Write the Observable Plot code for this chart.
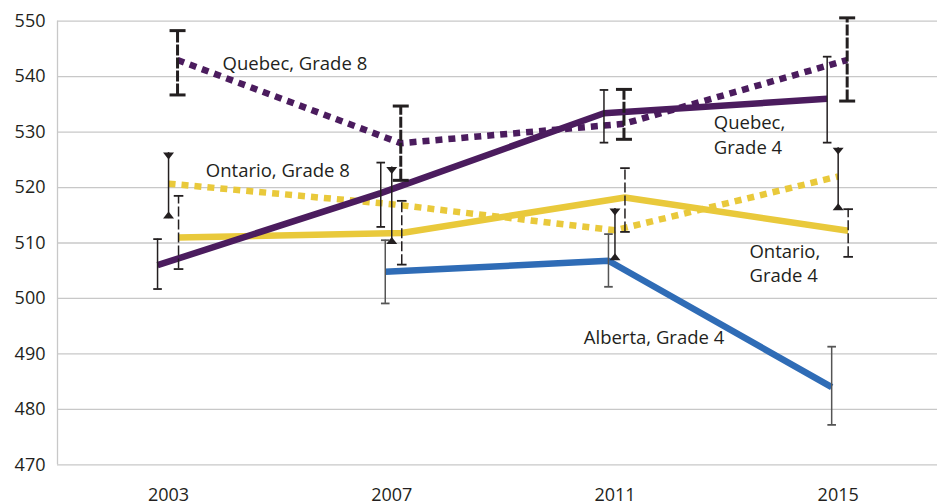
<!DOCTYPE html>
<html>
<head>
<meta charset="utf-8">
<script src="https://cdn.jsdelivr.net/npm/d3@7"></script>
<script src="https://cdn.jsdelivr.net/npm/@observablehq/plot@0.6"></script>
<style>
  html, body { margin: 0; padding: 0; background: #fff; }
  #chart { width: 937px; height: 504px; }
</style>
</head>
<body>
<div id="chart"></div>
<script>
// ---- data ----
const years = [2003, 2007, 2011, 2015];
const yTicks = [470, 480, 490, 500, 510, 520, 530, 540, 550];

const quebecG4   = [506, 519, 533.4, 536];
const quebecG4Lo = [501.7, 512.9, 528.1, 528.1];
const quebecG4Hi = [510.7, 524.5, 537.6, 543.6];

const quebecG8   = [543, 528, 531.5, 543];
const quebecG8Lo = [536.7, 521.3, 528.7, 535.6];
const quebecG8Hi = [548.3, 534.7, 537.7, 550.6];

const ontarioG8   = [520.7, 517, 512.3, 522];
const ontarioG8Lo = [514.4, 509.8, 506.9, 515.9];
const ontarioG8Hi = [526.3, 523.7, 516.2, 527.2];

const ontarioG4   = [511, 511.8, 518.2, 512.2];
const ontarioG4Lo = [505.3, 506.1, 512, 507.5];
const ontarioG4Hi = [518.5, 517.6, 523.5, 516.1];

const albertaG4   = [null, 504.8, 506.8, 484];
const albertaG4Lo = [null, 499.1, 502.1, 477.2];
const albertaG4Hi = [null, 510.5, 511.6, 491.3];

const labelQG4 = "Quebec,\nGrade 4";
const labelQG8 = "Quebec, Grade 8";
const labelOG4 = "Ontario,\nGrade 4";
const labelOG8 = "Ontario, Grade 8";
const labelAB4 = "Alberta, Grade 4";

// ---- styles ----
const PURPLE = "#4b1c5e", YELLOW = "#e9c93b", BLUE = "#2f6cb6";
const INK = "#231f20", GREY_BAR = "#555555", GRID = "#c8c8c8";

const series = [
  {values: ontarioG4, lo: ontarioG4Lo, hi: ontarioG4Hi, color: YELLOW, dash: null, off: 10, err: "dashThin",
   label: labelOG4, at: 3, ldx: -88.7, ldy: 51.4},
  {values: ontarioG8, lo: ontarioG8Lo, hi: ontarioG8Hi, color: YELLOW, dash: "7,6", off: 0, err: "triangle",
   label: labelOG8, at: 0, ldx: 37.3, ldy: -6.5},
  {values: albertaG4, lo: albertaG4Lo, hi: albertaG4Hi, color: BLUE, dash: null, off: -6.5, err: "grey",
   label: labelAB4, at: 3, ldx: -254.4, ldy: -43.4},
  {values: quebecG8, lo: quebecG8Lo, hi: quebecG8Hi, color: PURPLE, dash: "7,6", off: 9, err: "dashThick",
   label: labelQG8, at: 0, ldx: 54, ldy: 9.8},
  {values: quebecG4, lo: quebecG4Lo, hi: quebecG4Hi, color: PURPLE, dash: null, off: -11, err: "thin",
   label: labelQG4, at: 3, ldx: -124.4, ldy: 55}
];

// custom symbols (r = sqrt(size/PI))
const hline = {draw(ctx, size) { const r = Math.sqrt(size / Math.PI); ctx.moveTo(-r, 0); ctx.lineTo(r, 0); }};
const triUp = {draw(ctx, size) { const r = Math.sqrt(size / Math.PI); ctx.moveTo(-r, 0); ctx.lineTo(r, 0); ctx.lineTo(0, -r * 1.27); ctx.closePath(); }};
const triDown = {draw(ctx, size) { const r = Math.sqrt(size / Math.PI); ctx.moveTo(-r, 0); ctx.lineTo(r, 0); ctx.lineTo(0, r * 1.27); ctx.closePath(); }};

const xDomain = [2001.01, 2016.78];

const marks = [
  Plot.ruleY(yTicks, {stroke: GRID, strokeWidth: 1.3}),
  Plot.ruleX([xDomain[0]], {y1: yTicks[0], y2: yTicks[yTicks.length - 1], stroke: GRID, strokeWidth: 1.3}),
  Plot.axisX({ticks: years, tickSize: 0, tickPadding: 23, tickFormat: d => String(d), fontSize: 18, label: null}),
  Plot.axisY({ticks: yTicks, tickSize: 0, tickPadding: 12, fontSize: 18, label: null})
];

// lines
for (const s of series) {
  const pts = years.map((y, i) => ({year: y, v: s.values[i]})).filter(d => d.v != null);
  marks.push(Plot.line(pts, {
    x: "year", y: "v", dx: s.off, stroke: s.color, strokeWidth: 6.5,
    strokeDasharray: s.dash || undefined, strokeLinecap: "butt", strokeLinejoin: "miter"
  }));
}

// error bars
for (const s of series) {
  const eb = years.map((y, i) => ({year: y, lo: s.lo[i], hi: s.hi[i]})).filter(d => d.lo != null);
  const ends = eb.flatMap(d => [{year: d.year, v: d.lo}, {year: d.year, v: d.hi}]);
  if (s.err === "thin" || s.err === "grey") {
    const c = s.err === "grey" ? GREY_BAR : INK;
    marks.push(Plot.ruleX(eb, {x: "year", y1: "lo", y2: "hi", dx: s.off, stroke: c, strokeWidth: 1.5}));
    marks.push(Plot.dot(ends, {x: "year", y: "v", dx: s.off, symbol: hline, r: 4.3, stroke: c, strokeWidth: 1.8, fill: "none"}));
  } else if (s.err === "dashThin") {
    marks.push(Plot.ruleX(eb, {x: "year", y1: "lo", y2: "hi", dx: s.off, stroke: INK, strokeWidth: 1.5, strokeDasharray: "10,3"}));
    marks.push(Plot.dot(ends, {x: "year", y: "v", dx: s.off, symbol: hline, r: 4.8, stroke: INK, strokeWidth: 1.8, fill: "none"}));
  } else if (s.err === "dashThick") {
    marks.push(Plot.ruleX(eb, {x: "year", y1: "lo", y2: "hi", dx: s.off, stroke: INK, strokeWidth: 3, strokeDasharray: "11,2"}));
    marks.push(Plot.dot(ends, {x: "year", y: "v", dx: s.off, symbol: hline, r: 8, stroke: INK, strokeWidth: 3, fill: "none"}));
  } else if (s.err === "triangle") {
    marks.push(Plot.ruleX(eb, {x: "year", y1: "lo", y2: "hi", dx: s.off, stroke: INK, strokeWidth: 1.5}));
    marks.push(Plot.dot(eb, {x: "year", y: "lo", dx: s.off, symbol: triUp, r: 5.5, fill: INK, stroke: "none"}));
    marks.push(Plot.dot(eb, {x: "year", y: "hi", dx: s.off, symbol: triDown, r: 5.5, fill: INK, stroke: "none"}));
  }
}

// labels
for (const s of series) {
  marks.push(Plot.text([{year: years[s.at], v: s.values[s.at], t: s.label}], {
    x: "year", y: "v", text: "t", dx: s.ldx, dy: s.ldy,
    textAnchor: "start", lineAnchor: "bottom", lineHeight: 1.33,
    fontSize: 18.5, fill: INK
  }));
}

const chart = Plot.plot({
  width: 937,
  height: 504,
  marginLeft: 57,
  marginRight: 0,
  marginTop: 20.7,
  marginBottom: 39.7,
  x: {type: "linear", domain: xDomain},
  y: {type: "linear", domain: [yTicks[0], yTicks[yTicks.length - 1]]},
  style: {fontFamily: "'Open Sans', sans-serif", fontSize: "18px", color: INK, background: "#fff", overflow: "visible"},
  marks
});
document.getElementById("chart").appendChild(chart);
</script>
</body>
</html>
